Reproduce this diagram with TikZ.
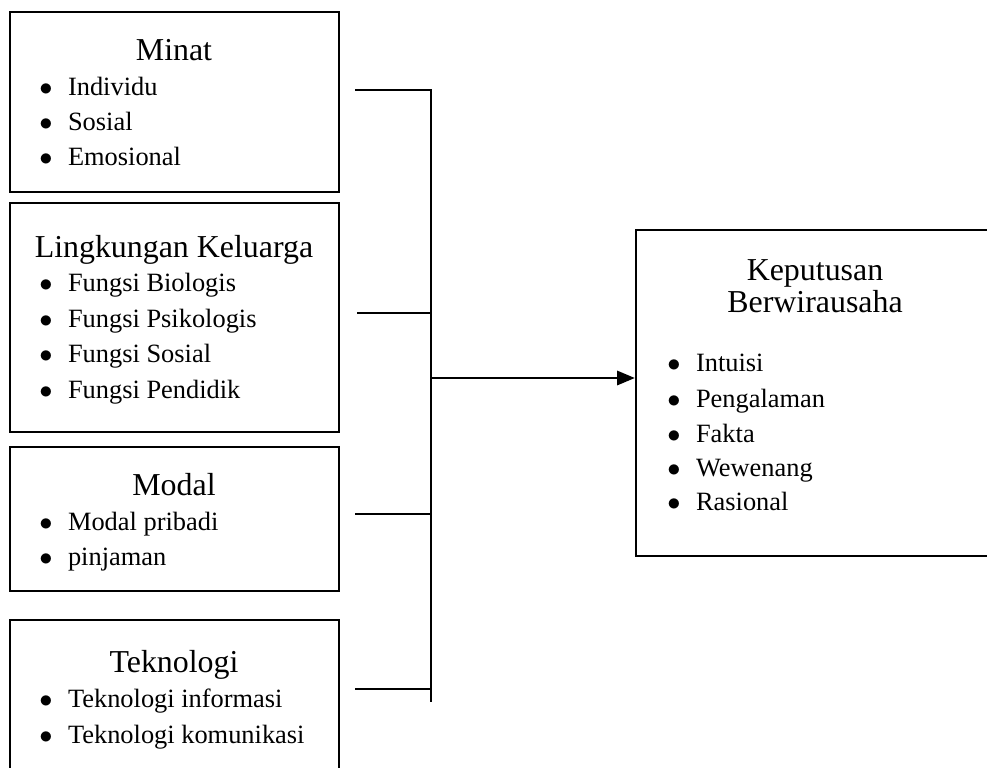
\documentclass[tikz,border=0pt]{standalone}
\usepackage{fontspec}
\setmainfont{Liberation Serif}
\usetikzlibrary{positioning, arrows.meta}

\tikzset{
  box/.style={draw, line width=1.1pt, rectangle, minimum width=149.5pt, inner sep=0pt},
  judul/.style={font=\fontsize{14.5}{17}\selectfont, inner sep=0pt, text height=11.5pt, text depth=2pt},
  itm/.style={font=\fontsize{12}{14}\selectfont, anchor=west, inner sep=0pt, text height=10pt, text depth=2pt},
  garis/.style={line width=0.85pt},
}
\newcommand{\butir}[1]{\makebox[13pt][l]{$\bullet$}#1}

\begin{document}
\begin{tikzpicture}[x=0.4545pt, y=-0.4545pt]
    \useasboundingbox (0,0) rectangle (987,767);

    % Kotak variabel
    \node[box, minimum height=81.8pt] (minat) at (174.5,102) {};
    \node[box, minimum height=104.1pt] (keluarga) at (174.5,317.5) {};
    \node[box, minimum height=65.5pt] (modal) at (174.5,519) {};
    \node[box, minimum height=77.3pt] (teknologi) at (174.5,705) {};
    \node[box, minimum width=162.7pt, minimum height=148.2pt] (keputusan) at (815,393) {};

    % Minat
    \node[judul] (tminat) at (174,50) {Minat};
    \node[itm] (m1) at (39,87) {\butir{Individu}};
    \node[itm] (m2) at (39,122) {\butir{Sosial}};
    \node[itm] (m3) at (39,157) {\butir{Emosional}};

    % Lingkungan Keluarga
    \node[judul] (tkeluarga) at (174,247) {Lingkungan Keluarga};
    \node[itm] (k1) at (39,283) {\butir{Fungsi Biologis}};
    \node[itm] (k2) at (39,319) {\butir{Fungsi Psikologis}};
    \node[itm] (k3) at (39,354) {\butir{Fungsi Sosial}};
    \node[itm] (k4) at (39,390) {\butir{Fungsi Pendidik}};

    % Modal
    \node[judul] (tmodal) at (174,485) {Modal};
    \node[itm] (d1) at (39,522) {\butir{Modal pribadi}};
    \node[itm] (d2) at (39,557) {\butir{pinjaman}};

    % Teknologi
    \node[judul] (tteknologi) at (174,662) {Teknologi};
    \node[itm] (t1) at (39,699) {\butir{Teknologi informasi}};
    \node[itm] (t2) at (39,735) {\butir{Teknologi komunikasi}};

    % Keputusan Berwirausaha
    \node[judul] (tkep1) at (815,270) {Keputusan};
    \node[judul] (tkep2) at (815,302) {Berwirausaha};
    \node[itm] (p1) at (667,363) {\butir{Intuisi}};
    \node[itm] (p2) at (667,399) {\butir{Pengalaman}};
    \node[itm] (p3) at (667,434) {\butir{Fakta}};
    \node[itm] (p4) at (667,468) {\butir{Wewenang}};
    \node[itm] (p5) at (667,502) {\butir{Rasional}};

    % Garis penghubung
    \coordinate (s1) at (355,90);
    \coordinate (s2) at (357,313);
    \coordinate (s3) at (355,514);
    \coordinate (s4) at (355,689);
    \coordinate (bustop) at (431,90);
    \coordinate (busbot) at (431,702);
    \coordinate (jn) at (431,378);

    \draw[garis] (s1) -- (bustop) -- (busbot);
    \draw[garis] (s2) -- (s2 -| bustop);
    \draw[garis] (s3) -- (s3 -| bustop);
    \draw[garis] (s4) -- (s4 -| bustop);
    \draw[garis, -{Triangle[length=8pt, width=6.5pt]}] (jn) -- (jn -| keputusan.west);
\end{tikzpicture}
\end{document}
